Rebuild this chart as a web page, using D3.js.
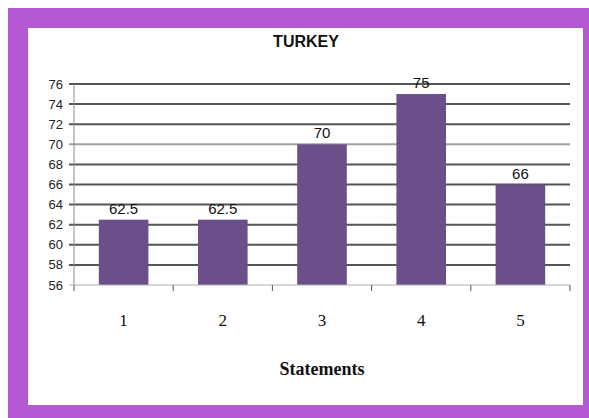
<!DOCTYPE html>
<html>
<head>
<meta charset="utf-8">
<script src="https://cdn.jsdelivr.net/npm/d3@7"></script>
<style>
  html, body { margin: 0; padding: 0; background: #fff; }
  svg { display: block; }
</style>
</head>
<body>
<svg id="chart" width="589" height="418"></svg>
<script>
// Survey scores for Turkey per statement
const categories = ["1", "2", "3", "4", "5"];
const values = [62.5, 62.5, 70, 75, 66];
const valueLabels = ["62.5", "62.5", "70", "75", "66"];
const yTicks = [56, 58, 60, 62, 64, 66, 68, 70, 72, 74, 76];
const title = "TURKEY";
const xTitle = "Statements";

const svg = d3.select("#chart");
const W = 589, H = 418;

// purple frame with white panel
svg.append("rect").attr("x", 8).attr("y", 8).attr("width", W - 8).attr("height", H - 8)
  .attr("fill", "#b558d4");
svg.append("rect").attr("x", 28).attr("y", 28).attr("width", 555).attr("height", 377)
  .attr("fill", "#ffffff");

const plot = { left: 74, right: 570, top: 84, bottom: 285 };

const x = d3.scaleBand().domain(categories).range([plot.left, plot.right]).paddingInner(0.5).paddingOuter(0.25);
const xb = d3.scaleBand().domain(categories).range([plot.left, plot.right]);
const y = d3.scaleLinear().domain([56, 76]).range([plot.bottom, plot.top]);

// horizontal gridlines (the baseline is drawn by the axis)
svg.append("g").selectAll("line").data(yTicks.filter(d => d > 56)).join("line")
  .attr("x1", plot.left - 5).attr("x2", plot.right)
  .attr("y1", d => y(d)).attr("y2", d => y(d))
  .attr("stroke", d => d === 70 ? "#a0a0a0" : "#555555")
  .attr("stroke-width", 2);

// y axis line
svg.append("line").attr("x1", plot.left).attr("x2", plot.left)
  .attr("y1", plot.top).attr("y2", plot.bottom)
  .attr("stroke", "#8a8a8a").attr("stroke-width", 1);

// y tick labels
svg.append("g").selectAll("text").data(yTicks).join("text")
  .attr("x", plot.left - 11).attr("y", d => y(d)).attr("dy", "0.35em")
  .attr("text-anchor", "end")
  .attr("font-family", "Liberation Sans, Arial, sans-serif")
  .attr("font-size", 13).attr("fill", "#222")
  .text(d => d);

// bars
svg.append("g").selectAll("rect").data(values).join("rect")
  .attr("x", (d, i) => x(categories[i]))
  .attr("y", d => y(d))
  .attr("width", x.bandwidth())
  .attr("height", d => y(56) - y(d))
  .attr("fill", "#6b4f8b");

// x axis line and category ticks
svg.append("line").attr("x1", plot.left - 5).attr("x2", plot.right)
  .attr("y1", plot.bottom).attr("y2", plot.bottom)
  .attr("stroke", "#b0b0b0").attr("stroke-width", 1);
const bounds = categories.map(c => xb(c)).concat([plot.right]);
svg.append("g").selectAll("line").data(bounds).join("line")
  .attr("x1", d => d).attr("x2", d => d)
  .attr("y1", plot.bottom).attr("y2", plot.bottom + 6)
  .attr("stroke", "#555").attr("stroke-width", 1);

// category labels
svg.append("g").selectAll("text").data(categories).join("text")
  .attr("x", d => xb(d) + xb.bandwidth() / 2).attr("y", 326)
  .attr("text-anchor", "middle")
  .attr("font-family", "Liberation Serif, Times New Roman, serif")
  .attr("font-size", 17).attr("fill", "#111")
  .text(d => d);

// value labels
svg.append("g").selectAll("text").data(values).join("text")
  .attr("x", (d, i) => x(categories[i]) + x.bandwidth() / 2)
  .attr("y", d => y(d) - 6)
  .attr("text-anchor", "middle")
  .attr("font-family", "Liberation Sans, Arial, sans-serif")
  .attr("font-size", 15).attr("fill", "#111")
  .text((d, i) => valueLabels[i]);

// titles
svg.append("text").attr("x", 306).attr("y", 47).attr("text-anchor", "middle")
  .attr("font-family", "Liberation Sans, Arial, sans-serif")
  .attr("font-weight", "bold").attr("font-size", 16).attr("fill", "#111")
  .text(title);
svg.append("text").attr("x", 322).attr("y", 375).attr("text-anchor", "middle")
  .attr("font-family", "Liberation Serif, Times New Roman, serif")
  .attr("font-weight", "bold").attr("font-size", 18).attr("fill", "#111")
  .text(xTitle);
</script>
</body>
</html>
